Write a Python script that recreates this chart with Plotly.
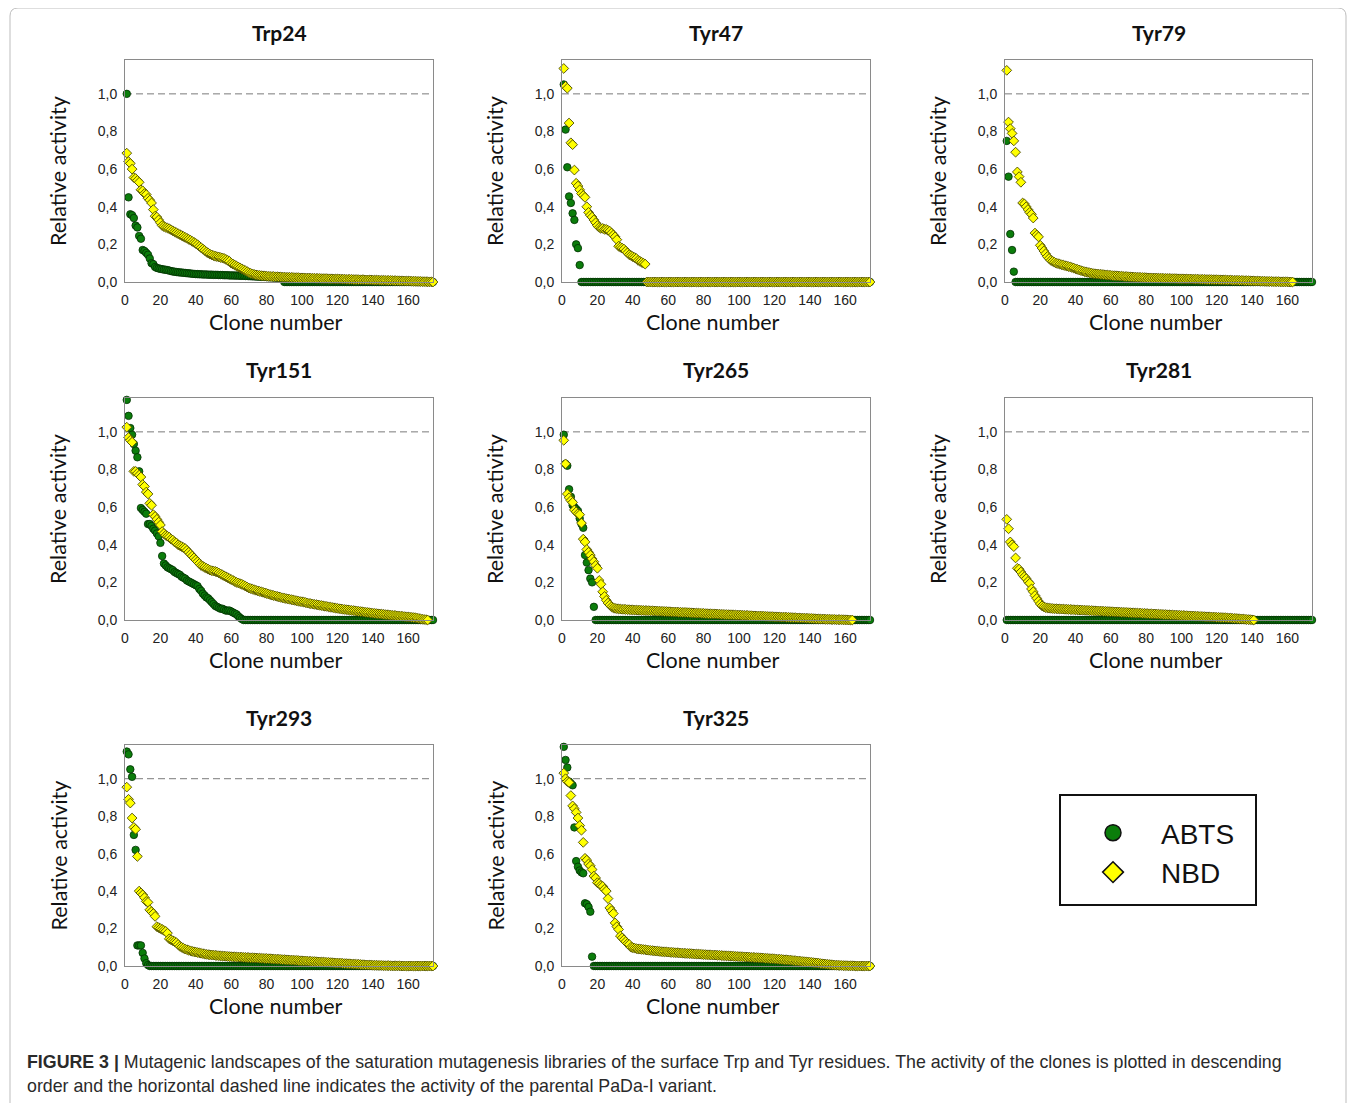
import plotly.graph_objects as go

W, H = 1355, 1103
OFFSET = 8  # page body margin of the viewer

PANEL_TITLES = ["Trp24", "Tyr47", "Tyr79", "Tyr151", "Tyr265", "Tyr281", "Tyr293", "Tyr325"]
SERIES_NAMES = ["ABTS", "NBD"]
X_TICKS = [0, 20, 40, 60, 80, 100, 120, 140, 160]
Y_TICKS = [0.0, 0.2, 0.4, 0.6, 0.8, 1.0]
Y_TICK_LABELS = ["0,0", "0,2", "0,4", "0,6", "0,8", "1,0"]
PARENT_LEVEL = 1.0
X_AXIS_TITLE = "Clone number"
Y_AXIS_TITLE = "Relative activity"
CAPTION_BOLD = "FIGURE 3 |"
CAPTION_LINE1 = (" Mutagenic landscapes of the saturation mutagenesis libraries of the surface Trp and Tyr residues. "
                 "The activity of the clones is plotted in descending")
CAPTION_LINE2 = "order and the horizontal dashed line indicates the activity of the parental PaDa-I variant."

# ---------------- data (relative activity, clones sorted in descending order) ----------------
TRP24_ABTS = [
    1.0, 0.45, 0.36, 0.355, 0.34, 0.30, 0.29, 0.245, 0.23, 0.17,
    0.165, 0.155, 0.145, 0.125, 0.10, 0.095, 0.08, 0.075, 0.072, 0.07,
    0.068, 0.066, 0.065, 0.063, 0.061, 0.058, 0.056, 0.055, 0.053, 0.052,
    0.051, 0.05, 0.049, 0.048, 0.047, 0.046, 0.045, 0.044, 0.043, 0.042,
    0.042, 0.041, 0.041, 0.040, 0.040, 0.040, 0.039, 0.039, 0.039, 0.038,
    0.038, 0.038, 0.037, 0.037, 0.037, 0.036, 0.036, 0.036, 0.035, 0.035,
    0.035, 0.034, 0.034, 0.034, 0.033, 0.033, 0.033, 0.032, 0.032, 0.031,
    0.031, 0.030, 0.030, 0.029, 0.029, 0.028, 0.028, 0.027, 0.027, 0.026,
    0.026, 0.025, 0.025, 0.024, 0.024, 0.023, 0.022, 0.021, 0.02,
    0, 0, 0, 0, 0, 0, 0, 0, 0, 0,
    0, 0, 0, 0, 0, 0, 0, 0, 0, 0,
    0, 0, 0, 0, 0, 0, 0, 0, 0, 0,
    0, 0, 0, 0, 0, 0, 0, 0, 0, 0,
    0, 0, 0, 0, 0, 0, 0, 0, 0, 0,
    0, 0, 0, 0, 0, 0, 0, 0, 0, 0,
    0, 0, 0, 0, 0, 0, 0, 0, 0, 0,
    0, 0, 0, 0, 0, 0, 0, 0, 0, 0,
    0, 0, 0, 0, 0,
]
TRP24_NBD = [
    0.685, 0.64, 0.63, 0.60, 0.555, 0.55, 0.54, 0.53, 0.49, 0.485,
    0.47, 0.465, 0.445, 0.435, 0.42, 0.385, 0.35, 0.345, 0.33, 0.315,
    0.30, 0.295, 0.29, 0.287, 0.283, 0.278, 0.272, 0.267, 0.262, 0.257,
    0.252, 0.247, 0.242, 0.237, 0.232, 0.227, 0.222, 0.216, 0.21, 0.205,
    0.198, 0.19, 0.183, 0.175, 0.168, 0.16, 0.154, 0.148, 0.144, 0.14,
    0.137, 0.135, 0.133, 0.13, 0.128, 0.125, 0.12, 0.115, 0.11, 0.10,
    0.095, 0.09, 0.085, 0.08, 0.075, 0.07, 0.065, 0.06, 0.055, 0.05,
    0.046, 0.043, 0.04, 0.038, 0.036, 0.035, 0.034, 0.033, 0.032, 0.031,
    0.03, 0.03, 0.029, 0.029, 0.028, 0.028, 0.027, 0.027, 0.026, 0.026,
    0.025, 0.025, 0.025, 0.024, 0.024, 0.023, 0.023, 0.023, 0.022, 0.022,
    0.022, 0.021, 0.021, 0.021, 0.02, 0.02, 0.02, 0.019, 0.019, 0.019,
    0.018, 0.018, 0.018, 0.018, 0.017, 0.017, 0.017, 0.016, 0.016, 0.016,
    0.016, 0.015, 0.015, 0.015, 0.014, 0.014, 0.014, 0.014, 0.013, 0.013,
    0.013, 0.012, 0.012, 0.012, 0.012, 0.011, 0.011, 0.011, 0.011, 0.01,
    0.01, 0.01, 0.01, 0.009, 0.009, 0.009, 0.009, 0.008, 0.008, 0.008,
    0.008, 0.007, 0.007, 0.007, 0.006, 0.006, 0.006, 0.006, 0.005, 0.005,
    0.005, 0.004, 0.004, 0.004, 0.003, 0.003, 0.003, 0.002, 0.002, 0.002,
    0.001, 0.001, 0.001, 0.0,
]

TYR47_ABTS = [
    1.05, 0.81, 0.61, 0.455, 0.42, 0.365, 0.33, 0.20, 0.18, 0.09,
    0, 0, 0, 0, 0, 0, 0, 0, 0, 0,
    0, 0, 0, 0, 0, 0, 0, 0, 0, 0,
    0, 0, 0, 0, 0, 0, 0, 0, 0, 0,
    0, 0, 0, 0, 0, 0, 0, 0, 0, 0,
    0, 0, 0, 0, 0, 0, 0, 0, 0, 0,
    0, 0, 0, 0, 0, 0, 0, 0, 0, 0,
    0, 0, 0, 0, 0, 0, 0, 0, 0, 0,
    0, 0, 0, 0, 0, 0, 0, 0, 0, 0,
    0, 0, 0, 0, 0, 0, 0, 0, 0, 0,
    0, 0, 0, 0, 0, 0, 0, 0, 0, 0,
    0, 0, 0, 0, 0, 0, 0, 0, 0, 0,
    0, 0, 0, 0, 0, 0, 0, 0, 0, 0,
    0, 0, 0, 0, 0, 0, 0, 0, 0, 0,
    0, 0, 0, 0, 0, 0, 0, 0, 0, 0,
    0, 0, 0, 0, 0, 0, 0, 0, 0, 0,
    0, 0, 0, 0, 0, 0, 0, 0, 0, 0,
    0, 0, 0, 0,
]
TYR47_NBD = [
    1.135, 1.04, 1.03, 0.845, 0.74, 0.73, 0.595, 0.525, 0.51, 0.49,
    0.47, 0.46, 0.45, 0.40, 0.37, 0.355, 0.345, 0.33, 0.315, 0.30,
    0.29, 0.285, 0.285, 0.28, 0.28, 0.275, 0.27, 0.26, 0.25, 0.24,
    0.225, 0.19, 0.185, 0.18, 0.175, 0.165, 0.155, 0.145, 0.14, 0.135,
    0.13, 0.125, 0.115, 0.11, 0.105, 0.10, 0.095,
    0, 0, 0, 0, 0, 0, 0, 0, 0, 0,
    0, 0, 0, 0, 0, 0, 0, 0, 0, 0,
    0, 0, 0, 0, 0, 0, 0, 0, 0, 0,
    0, 0, 0, 0, 0, 0, 0, 0, 0, 0,
    0, 0, 0, 0, 0, 0, 0, 0, 0, 0,
    0, 0, 0, 0, 0, 0, 0, 0, 0, 0,
    0, 0, 0, 0, 0, 0, 0, 0, 0, 0,
    0, 0, 0, 0, 0, 0, 0, 0, 0, 0,
    0, 0, 0, 0, 0, 0, 0, 0, 0, 0,
    0, 0, 0, 0, 0, 0, 0, 0, 0, 0,
    0, 0, 0, 0, 0, 0, 0, 0, 0, 0,
    0, 0, 0, 0, 0, 0, 0, 0, 0, 0,
    0, 0, 0, 0, 0, 0, 0,
]

TYR79_ABTS = [
    0.75, 0.56, 0.255, 0.17, 0.055,
    0, 0, 0, 0, 0, 0, 0, 0, 0, 0,
    0, 0, 0, 0, 0, 0, 0, 0, 0, 0,
    0, 0, 0, 0, 0, 0, 0, 0, 0, 0,
    0, 0, 0, 0, 0, 0, 0, 0, 0, 0,
    0, 0, 0, 0, 0, 0, 0, 0, 0, 0,
    0, 0, 0, 0, 0, 0, 0, 0, 0, 0,
    0, 0, 0, 0, 0, 0, 0, 0, 0, 0,
    0, 0, 0, 0, 0, 0, 0, 0, 0, 0,
    0, 0, 0, 0, 0, 0, 0, 0, 0, 0,
    0, 0, 0, 0, 0, 0, 0, 0, 0, 0,
    0, 0, 0, 0, 0, 0, 0, 0, 0, 0,
    0, 0, 0, 0, 0, 0, 0, 0, 0, 0,
    0, 0, 0, 0, 0, 0, 0, 0, 0, 0,
    0, 0, 0, 0, 0, 0, 0, 0, 0, 0,
    0, 0, 0, 0, 0, 0, 0, 0, 0, 0,
    0, 0, 0, 0, 0, 0, 0, 0, 0, 0,
    0, 0, 0, 0, 0, 0, 0, 0, 0,
]
TYR79_NBD = [
    1.125, 0.85, 0.815, 0.79, 0.75, 0.69, 0.585, 0.56, 0.53, 0.42,
    0.415, 0.40, 0.385, 0.37, 0.36, 0.34, 0.26, 0.25, 0.24, 0.195,
    0.18, 0.165, 0.15, 0.135, 0.125, 0.115, 0.11, 0.105, 0.10, 0.098,
    0.095, 0.092, 0.09, 0.087, 0.085, 0.082, 0.08, 0.077, 0.074, 0.07,
    0.067, 0.064, 0.061, 0.058, 0.055, 0.053, 0.051, 0.049, 0.047, 0.045,
    0.044, 0.043, 0.042, 0.041, 0.04, 0.039, 0.038, 0.037, 0.036, 0.035,
    0.034, 0.033, 0.033, 0.032, 0.031, 0.031, 0.03, 0.029, 0.029, 0.028,
    0.027, 0.027, 0.026, 0.026, 0.025, 0.025, 0.024, 0.024, 0.023, 0.023,
    0.022, 0.022, 0.022, 0.021, 0.021, 0.021, 0.02, 0.02, 0.02, 0.019,
    0.019, 0.019, 0.019, 0.018, 0.018, 0.018, 0.018, 0.017, 0.017, 0.017,
    0.017, 0.016, 0.016, 0.016, 0.016, 0.015, 0.015, 0.015, 0.015, 0.014,
    0.014, 0.014, 0.014, 0.013, 0.013, 0.013, 0.013, 0.012, 0.012, 0.012,
    0.012, 0.011, 0.011, 0.011, 0.011, 0.01, 0.01, 0.01, 0.009, 0.009,
    0.009, 0.009, 0.008, 0.008, 0.008, 0.007, 0.007, 0.007, 0.006, 0.006,
    0.006, 0.005, 0.005, 0.005, 0.004, 0.004, 0.004, 0.003, 0.003, 0.003,
    0.003, 0.002, 0.002, 0.002, 0.002, 0.001, 0.001, 0.001, 0.001, 0.001,
    0.0, 0.0, 0.0,
]

TYR151_ABTS = [
    1.17, 1.085, 1.02, 0.985, 0.935, 0.90, 0.865, 0.79, 0.595, 0.585,
    0.575, 0.565, 0.51, 0.51, 0.50, 0.485, 0.475, 0.46, 0.445, 0.41,
    0.34, 0.30, 0.29, 0.28, 0.275, 0.27, 0.265, 0.255, 0.25, 0.245,
    0.24, 0.23, 0.225, 0.22, 0.21, 0.205, 0.20, 0.195, 0.19, 0.185,
    0.18, 0.165, 0.155, 0.14, 0.13, 0.12, 0.115, 0.105, 0.095, 0.085,
    0.075, 0.07, 0.065, 0.06, 0.06, 0.055, 0.05, 0.05, 0.05, 0.045,
    0.04, 0.035, 0.03, 0.02, 0.012, 0.005,
    0, 0, 0, 0, 0, 0, 0, 0, 0, 0,
    0, 0, 0, 0, 0, 0, 0, 0, 0, 0,
    0, 0, 0, 0, 0, 0, 0, 0, 0, 0,
    0, 0, 0, 0, 0, 0, 0, 0, 0, 0,
    0, 0, 0, 0, 0, 0, 0, 0, 0, 0,
    0, 0, 0, 0, 0, 0, 0, 0, 0, 0,
    0, 0, 0, 0, 0, 0, 0, 0, 0, 0,
    0, 0, 0, 0, 0, 0, 0, 0, 0, 0,
    0, 0, 0, 0, 0, 0, 0, 0, 0, 0,
    0, 0, 0, 0, 0, 0, 0, 0, 0, 0,
    0, 0, 0, 0, 0, 0, 0, 0,
]
TYR151_NBD = [
    1.025, 0.97, 0.955, 0.945, 0.79, 0.79, 0.78, 0.77, 0.76, 0.72,
    0.71, 0.68, 0.67, 0.62, 0.61, 0.56, 0.55, 0.535, 0.52, 0.505,
    0.47, 0.46, 0.45, 0.445, 0.44, 0.43, 0.425, 0.415, 0.41, 0.40,
    0.395, 0.39, 0.385, 0.38, 0.37, 0.36, 0.35, 0.34, 0.33, 0.32,
    0.31, 0.30, 0.29, 0.285, 0.28, 0.275, 0.27, 0.265, 0.262, 0.26,
    0.258, 0.255, 0.25, 0.245, 0.24, 0.235, 0.23, 0.225, 0.22, 0.215,
    0.21, 0.205, 0.20, 0.197, 0.193, 0.19, 0.185, 0.18, 0.175, 0.17,
    0.167, 0.164, 0.161, 0.158, 0.155, 0.152, 0.15, 0.147, 0.144, 0.141,
    0.138, 0.135, 0.132, 0.13, 0.128, 0.125, 0.123, 0.12, 0.118, 0.116,
    0.114, 0.112, 0.11, 0.108, 0.106, 0.104, 0.102, 0.10, 0.098, 0.097,
    0.095, 0.093, 0.09, 0.088, 0.087, 0.085, 0.083, 0.082, 0.08, 0.078,
    0.077, 0.075, 0.073, 0.072, 0.07, 0.068, 0.067, 0.065, 0.063, 0.062,
    0.06, 0.059, 0.057, 0.056, 0.055, 0.054, 0.052, 0.051, 0.05, 0.049,
    0.047, 0.046, 0.045, 0.044, 0.042, 0.041, 0.04, 0.039, 0.037, 0.036,
    0.035, 0.034, 0.033, 0.032, 0.031, 0.03, 0.029, 0.028, 0.027, 0.026,
    0.025, 0.024, 0.023, 0.022, 0.021, 0.02, 0.019, 0.018, 0.017, 0.016,
    0.015, 0.014, 0.013, 0.012, 0.01, 0.008, 0.006, 0.004, 0.003, 0.002,
    0.0,
]

TYR265_ABTS = [
    0.985, 0.83, 0.82, 0.695, 0.655, 0.61, 0.60, 0.59, 0.58, 0.54,
    0.51, 0.49, 0.345, 0.305, 0.265, 0.22, 0.20, 0.07,
    0, 0, 0, 0, 0, 0, 0, 0, 0, 0,
    0, 0, 0, 0, 0, 0, 0, 0, 0, 0,
    0, 0, 0, 0, 0, 0, 0, 0, 0, 0,
    0, 0, 0, 0, 0, 0, 0, 0, 0, 0,
    0, 0, 0, 0, 0, 0, 0, 0, 0, 0,
    0, 0, 0, 0, 0, 0, 0, 0, 0, 0,
    0, 0, 0, 0, 0, 0, 0, 0, 0, 0,
    0, 0, 0, 0, 0, 0, 0, 0, 0, 0,
    0, 0, 0, 0, 0, 0, 0, 0, 0, 0,
    0, 0, 0, 0, 0, 0, 0, 0, 0, 0,
    0, 0, 0, 0, 0, 0, 0, 0, 0, 0,
    0, 0, 0, 0, 0, 0, 0, 0, 0, 0,
    0, 0, 0, 0, 0, 0, 0, 0, 0, 0,
    0, 0, 0, 0, 0, 0, 0, 0, 0, 0,
    0, 0, 0, 0, 0, 0, 0, 0, 0, 0,
    0, 0, 0, 0, 0, 0,
]
TYR265_NBD = [
    0.955, 0.83, 0.67, 0.65, 0.635, 0.625, 0.585, 0.575, 0.565, 0.56,
    0.515, 0.43, 0.415, 0.375, 0.36, 0.345, 0.325, 0.31, 0.29, 0.275,
    0.21, 0.19, 0.15, 0.125, 0.105, 0.09, 0.08, 0.07, 0.065, 0.062,
    0.06, 0.059, 0.058, 0.057, 0.057, 0.056, 0.055, 0.055, 0.054, 0.054,
    0.053, 0.053, 0.052, 0.052, 0.051, 0.051, 0.05, 0.05, 0.05, 0.049,
    0.049, 0.048, 0.048, 0.047, 0.047, 0.046, 0.046, 0.045, 0.045, 0.044,
    0.044, 0.043, 0.043, 0.042, 0.042, 0.041, 0.041, 0.04, 0.04, 0.04,
    0.039, 0.039, 0.038, 0.038, 0.037, 0.037, 0.036, 0.036, 0.035, 0.035,
    0.034, 0.034, 0.033, 0.033, 0.033, 0.032, 0.032, 0.031, 0.031, 0.03,
    0.03, 0.029, 0.029, 0.028, 0.028, 0.028, 0.027, 0.027, 0.026, 0.026,
    0.026, 0.025, 0.025, 0.024, 0.024, 0.023, 0.023, 0.022, 0.022, 0.021,
    0.021, 0.021, 0.02, 0.02, 0.019, 0.019, 0.018, 0.018, 0.018, 0.017,
    0.017, 0.016, 0.016, 0.015, 0.015, 0.015, 0.014, 0.014, 0.013, 0.013,
    0.012, 0.012, 0.011, 0.011, 0.01, 0.01, 0.01, 0.009, 0.009, 0.008,
    0.008, 0.007, 0.007, 0.006, 0.006, 0.005, 0.005, 0.005, 0.004, 0.004,
    0.004, 0.003, 0.003, 0.003, 0.002, 0.002, 0.002, 0.002, 0.001, 0.001,
    0.001, 0.0, 0.0, 0.0,
]

TYR281_ABTS = [
    0, 0, 0, 0, 0, 0, 0, 0, 0, 0,
    0, 0, 0, 0, 0, 0, 0, 0, 0, 0,
    0, 0, 0, 0, 0, 0, 0, 0, 0, 0,
    0, 0, 0, 0, 0, 0, 0, 0, 0, 0,
    0, 0, 0, 0, 0, 0, 0, 0, 0, 0,
    0, 0, 0, 0, 0, 0, 0, 0, 0, 0,
    0, 0, 0, 0, 0, 0, 0, 0, 0, 0,
    0, 0, 0, 0, 0, 0, 0, 0, 0, 0,
    0, 0, 0, 0, 0, 0, 0, 0, 0, 0,
    0, 0, 0, 0, 0, 0, 0, 0, 0, 0,
    0, 0, 0, 0, 0, 0, 0, 0, 0, 0,
    0, 0, 0, 0, 0, 0, 0, 0, 0, 0,
    0, 0, 0, 0, 0, 0, 0, 0, 0, 0,
    0, 0, 0, 0, 0, 0, 0, 0, 0, 0,
    0, 0, 0, 0, 0, 0, 0, 0, 0, 0,
    0, 0, 0, 0, 0, 0, 0, 0, 0, 0,
    0, 0, 0, 0, 0, 0, 0, 0, 0, 0,
    0, 0, 0, 0,
]
TYR281_NBD = [
    0.535, 0.485, 0.415, 0.40, 0.39, 0.33, 0.275, 0.27, 0.255, 0.24,
    0.23, 0.22, 0.205, 0.195, 0.165, 0.15, 0.13, 0.115, 0.10, 0.085,
    0.075, 0.07, 0.066, 0.064, 0.063, 0.062, 0.061, 0.06, 0.06, 0.059,
    0.059, 0.058, 0.058, 0.057, 0.057, 0.056, 0.056, 0.055, 0.055, 0.054,
    0.054, 0.053, 0.053, 0.052, 0.052, 0.051, 0.051, 0.05, 0.05, 0.049,
    0.049, 0.048, 0.048, 0.047, 0.047, 0.046, 0.046, 0.045, 0.045, 0.044,
    0.044, 0.043, 0.043, 0.042, 0.042, 0.041, 0.041, 0.04, 0.04, 0.039,
    0.039, 0.038, 0.038, 0.037, 0.037, 0.036, 0.036, 0.035, 0.035, 0.034,
    0.034, 0.033, 0.033, 0.032, 0.032, 0.031, 0.031, 0.03, 0.03, 0.029,
    0.029, 0.028, 0.028, 0.027, 0.027, 0.026, 0.026, 0.025, 0.025, 0.024,
    0.024, 0.023, 0.023, 0.022, 0.022, 0.021, 0.021, 0.02, 0.02, 0.019,
    0.019, 0.018, 0.018, 0.017, 0.017, 0.016, 0.016, 0.015, 0.015, 0.014,
    0.014, 0.013, 0.013, 0.012, 0.012, 0.011, 0.01, 0.01, 0.009, 0.008,
    0.008, 0.007, 0.006, 0.006, 0.005, 0.004, 0.003, 0.002, 0.002, 0.001,
    0.0,
]

TYR293_ABTS = [
    1.145, 1.13, 1.05, 1.01, 0.70, 0.62, 0.11, 0.11, 0.11, 0.07,
    0.04, 0.015, 0.005,
    0, 0, 0, 0, 0, 0, 0, 0, 0, 0,
    0, 0, 0, 0, 0, 0, 0, 0, 0, 0,
    0, 0, 0, 0, 0, 0, 0, 0, 0, 0,
    0, 0, 0, 0, 0, 0, 0, 0, 0, 0,
    0, 0, 0, 0, 0, 0, 0, 0, 0, 0,
    0, 0, 0, 0, 0, 0, 0, 0, 0, 0,
    0, 0, 0, 0, 0, 0, 0, 0, 0, 0,
    0, 0, 0, 0, 0, 0, 0, 0, 0, 0,
    0, 0, 0, 0, 0, 0, 0, 0, 0, 0,
    0, 0, 0, 0, 0, 0, 0, 0, 0, 0,
    0, 0, 0, 0, 0, 0, 0, 0, 0, 0,
    0, 0, 0, 0, 0, 0, 0, 0, 0, 0,
    0, 0, 0, 0, 0, 0, 0, 0, 0, 0,
    0, 0, 0, 0, 0, 0, 0, 0, 0, 0,
    0, 0, 0, 0, 0, 0, 0, 0, 0, 0,
    0, 0, 0, 0, 0, 0, 0, 0, 0, 0,
    0,
]
TYR293_NBD = [
    0.955, 0.89, 0.87, 0.79, 0.74, 0.73, 0.585, 0.40, 0.39, 0.38,
    0.365, 0.345, 0.34, 0.30, 0.29, 0.28, 0.265, 0.21, 0.205, 0.20,
    0.195, 0.19, 0.185, 0.175, 0.145, 0.14, 0.135, 0.13, 0.125, 0.115,
    0.105, 0.10, 0.095, 0.09, 0.087, 0.084, 0.081, 0.078, 0.076, 0.074,
    0.072, 0.07, 0.068, 0.066, 0.064, 0.062, 0.061, 0.06, 0.059, 0.058,
    0.057, 0.056, 0.055, 0.054, 0.053, 0.053, 0.052, 0.051, 0.05, 0.05,
    0.049, 0.049, 0.048, 0.048, 0.047, 0.047, 0.046, 0.046, 0.045, 0.045,
    0.044, 0.044, 0.043, 0.043, 0.042, 0.042, 0.041, 0.041, 0.04, 0.04,
    0.039, 0.039, 0.038, 0.037, 0.037, 0.036, 0.036, 0.035, 0.034, 0.034,
    0.033, 0.033, 0.032, 0.031, 0.031, 0.03, 0.03, 0.029, 0.028, 0.028,
    0.027, 0.027, 0.026, 0.025, 0.025, 0.024, 0.024, 0.023, 0.022, 0.022,
    0.021, 0.021, 0.02, 0.019, 0.019, 0.018, 0.018, 0.017, 0.016, 0.016,
    0.015, 0.015, 0.014, 0.013, 0.013, 0.012, 0.012, 0.011, 0.01, 0.01,
    0.009, 0.009, 0.008, 0.007, 0.007, 0.006, 0.006, 0.005, 0.005, 0.004,
    0.004, 0.004, 0.003, 0.003, 0.003, 0.002, 0.002, 0.002, 0.002, 0.001,
    0.001, 0.001, 0.001, 0.001, 0.001, 0, 0, 0, 0, 0,
    0, 0, 0, 0, 0, 0, 0, 0, 0, 0,
    0, 0, 0, 0,
]

TYR325_ABTS = [
    1.17, 1.10, 1.06, 0.985, 0.975, 0.965, 0.74, 0.56, 0.53, 0.51,
    0.50, 0.495, 0.335, 0.33, 0.315, 0.29, 0.05,
    0, 0, 0, 0, 0, 0, 0, 0, 0, 0,
    0, 0, 0, 0, 0, 0, 0, 0, 0, 0,
    0, 0, 0, 0, 0, 0, 0, 0, 0, 0,
    0, 0, 0, 0, 0, 0, 0, 0, 0, 0,
    0, 0, 0, 0, 0, 0, 0, 0, 0, 0,
    0, 0, 0, 0, 0, 0, 0, 0, 0, 0,
    0, 0, 0, 0, 0, 0, 0, 0, 0, 0,
    0, 0, 0, 0, 0, 0, 0, 0, 0, 0,
    0, 0, 0, 0, 0, 0, 0, 0, 0, 0,
    0, 0, 0, 0, 0, 0, 0, 0, 0, 0,
    0, 0, 0, 0, 0, 0, 0, 0, 0, 0,
    0, 0, 0, 0, 0, 0, 0, 0, 0, 0,
    0, 0, 0, 0, 0, 0, 0, 0, 0, 0,
    0, 0, 0, 0, 0, 0, 0, 0, 0, 0,
    0, 0, 0, 0, 0, 0, 0, 0, 0, 0,
    0, 0, 0, 0, 0, 0, 0,
]
TYR325_NBD = [
    1.03, 1.0, 0.985, 0.98, 0.91, 0.855, 0.84, 0.82, 0.79, 0.75,
    0.725, 0.66, 0.575, 0.565, 0.545, 0.535, 0.515, 0.48, 0.47, 0.445,
    0.44, 0.43, 0.425, 0.41, 0.40, 0.36, 0.31, 0.295, 0.28, 0.23,
    0.21, 0.195, 0.16, 0.15, 0.14, 0.13, 0.12, 0.115, 0.10, 0.098,
    0.095, 0.093, 0.091, 0.09, 0.089, 0.088, 0.087, 0.085, 0.084, 0.083,
    0.082, 0.081, 0.08, 0.079, 0.078, 0.077, 0.076, 0.076, 0.075, 0.074,
    0.073, 0.073, 0.072, 0.071, 0.071, 0.07, 0.069, 0.069, 0.068, 0.067,
    0.067, 0.066, 0.066, 0.065, 0.064, 0.064, 0.063, 0.063, 0.062, 0.061,
    0.061, 0.06, 0.06, 0.059, 0.059, 0.058, 0.058, 0.057, 0.057, 0.056,
    0.055, 0.055, 0.054, 0.054, 0.053, 0.053, 0.052, 0.051, 0.051, 0.05,
    0.05, 0.049, 0.049, 0.048, 0.048, 0.047, 0.046, 0.046, 0.045, 0.045,
    0.044, 0.043, 0.043, 0.042, 0.041, 0.041, 0.04, 0.039, 0.039, 0.038,
    0.037, 0.036, 0.036, 0.035, 0.034, 0.033, 0.033, 0.032, 0.031, 0.03,
    0.029, 0.028, 0.027, 0.026, 0.025, 0.024, 0.023, 0.022, 0.021, 0.02,
    0.019, 0.018, 0.017, 0.016, 0.015, 0.013, 0.012, 0.011, 0.01, 0.009,
    0.008, 0.007, 0.006, 0.005, 0.004, 0.004, 0.003, 0.003, 0.002, 0.002,
    0.002, 0.001, 0.001, 0.001, 0.001, 0, 0, 0, 0, 0,
    0, 0, 0, 0,
]

PANEL_DATA = [
    (TRP24_ABTS, TRP24_NBD),
    (TYR47_ABTS, TYR47_NBD),
    (TYR79_ABTS, TYR79_NBD),
    (TYR151_ABTS, TYR151_NBD),
    (TYR265_ABTS, TYR265_NBD),
    (TYR281_ABTS, TYR281_NBD),
    (TYR293_ABTS, TYR293_NBD),
    (TYR325_ABTS, TYR325_NBD),
]

# ---------------- layout geometry (screen pixels) ----------------
COL_PX = [(125, 433), (562, 870), (1005, 1312)]
ROW_PX = [(60, 282), (398, 620), (745, 966)]
X_RANGE = [0, 174]
Y_RANGE = [0, 1.18]

ABTS_STYLE = dict(symbol="circle", size=7.5, color="#0b7d0b", line=dict(color="#023002", width=0.8))
NBD_STYLE = dict(symbol="diamond", size=7.5, color="#ffff00", line=dict(color="#4a4a00", width=0.9))

TITLE_FONT = dict(family="Lato, Open Sans, sans-serif", size=21, color="#111111")
AXIS_TITLE_FONT = dict(family="Lato, Open Sans, sans-serif", size=21.5, color="#111111")
TICK_FONT = dict(family="Liberation Sans, Arial, sans-serif", size=14, color="#222222")
CAPTION_FONT = dict(family="Liberation Sans, Arial, sans-serif", size=17.8, color="#2a2a2a")


def fx(p):
    return (p - OFFSET) / W


def fy(p):
    return 1 - (p - OFFSET) / H


fig = go.Figure()
layout = dict(
    width=W, height=H, margin=dict(l=0, r=0, t=0, b=0),
    paper_bgcolor="white", plot_bgcolor="white", template="none",
    showlegend=True, hovermode=False,
)
shapes = []
annotations = []

for i, (abts, nbd) in enumerate(PANEL_DATA):
    k = "" if i == 0 else str(i + 1)
    r, c = divmod(i, 3)
    x0, x1 = COL_PX[c]
    y0, y1 = ROW_PX[r]

    fig.add_trace(go.Scatter(
        x=list(range(1, len(abts) + 1)), y=abts, mode="markers", name=SERIES_NAMES[0],
        marker=ABTS_STYLE, xaxis="x" + k, yaxis="y" + k, showlegend=False, cliponaxis=False))
    fig.add_trace(go.Scatter(
        x=list(range(1, len(nbd) + 1)), y=nbd, mode="markers", name=SERIES_NAMES[1],
        marker=NBD_STYLE, xaxis="x" + k, yaxis="y" + k, showlegend=False, cliponaxis=False))

    layout["xaxis" + k] = dict(
        domain=[fx(x0), fx(x1)], range=X_RANGE, anchor="y" + k,
        tickmode="array", tickvals=X_TICKS, ticktext=[str(v) for v in X_TICKS],
        showline=True, mirror=True, linecolor="#8a8a8a", linewidth=1,
        showgrid=False, zeroline=False, ticks="outside", ticklen=5,
        tickcolor="rgba(0,0,0,0)", tickfont=TICK_FONT, fixedrange=True)
    layout["yaxis" + k] = dict(
        domain=[fy(y1), fy(y0)], range=Y_RANGE, anchor="x" + k,
        tickmode="array", tickvals=Y_TICKS, ticktext=Y_TICK_LABELS,
        showline=True, mirror=True, linecolor="#8a8a8a", linewidth=1,
        showgrid=False, zeroline=False, ticks="outside", ticklen=4,
        tickcolor="rgba(0,0,0,0)", tickfont=TICK_FONT, fixedrange=True)

    shapes.append(dict(
        type="line", xref="x" + k + " domain", yref="y" + k,
        x0=0, x1=1, y0=PARENT_LEVEL, y1=PARENT_LEVEL,
        line=dict(color="#7a7a7a", width=1, dash="7px,4px"), layer="below"))

    cx = (x0 + x1) / 2
    annotations.append(dict(
        text="<b>%s</b>" % PANEL_TITLES[i], xref="paper", yref="paper",
        x=fx(cx), y=fy(y0 - 28), xanchor="center", yanchor="middle",
        showarrow=False, font=TITLE_FONT))
    annotations.append(dict(
        text=X_AXIS_TITLE, xref="paper", yref="paper",
        x=fx(cx - 3), y=fy(y1 + 40), xanchor="center", yanchor="middle",
        showarrow=False, font=AXIS_TITLE_FONT))
    annotations.append(dict(
        text=Y_AXIS_TITLE, xref="paper", yref="paper",
        x=fx(x0 - 67), y=fy((y0 + y1) / 2), xanchor="center", yanchor="middle",
        textangle=-90, showarrow=False, font=AXIS_TITLE_FONT))

# legend entries (keys only, no data)
fig.add_trace(go.Scatter(x=[None], y=[None], mode="markers", name=SERIES_NAMES[0],
                         marker=dict(symbol="circle", size=18, color="#0b7d0b",
                                     line=dict(color="#111111", width=1.5))))
fig.add_trace(go.Scatter(x=[None], y=[None], mode="markers", name=SERIES_NAMES[1],
                         marker=dict(symbol="diamond", size=18, color="#ffff00",
                                     line=dict(color="#111111", width=1.5))))

layout["legend"] = dict(
    x=fx(1065), y=fy(808), xanchor="left", yanchor="top",
    font=dict(family="Liberation Sans, Arial, sans-serif", size=28, color="#111111"),
    bgcolor="rgba(0,0,0,0)", borderwidth=0, itemwidth=86, tracegroupgap=0,
    itemclick=False, itemdoubleclick=False)

# legend frame
shapes.append(dict(type="rect", xref="paper", yref="paper",
                   x0=fx(1060), x1=fx(1256), y0=fy(905), y1=fy(795),
                   line=dict(color="#111111", width=2), fillcolor="rgba(0,0,0,0)"))

# outer figure frame (rounded top corners)
rr = 8
path = ("M {a},{b} L {a},{c} Q {a},{d} {e},{d} L {f},{d} Q {g},{d} {g},{c} L {g},{b}").format(
    a=fx(10), b=fy(1125), c=fy(8 + rr), d=fy(8), e=fx(10 + rr), f=fx(1346 - rr), g=fx(1346))
shapes.append(dict(type="path", xref="paper", yref="paper", path=path,
                   line=dict(color="#bdbdbd", width=1)))

# caption
annotations.append(dict(
    text="<b>%s</b>%s" % (CAPTION_BOLD, CAPTION_LINE1), xref="paper", yref="paper",
    x=fx(25), y=fy(1062), xanchor="left", yanchor="middle", showarrow=False,
    font=CAPTION_FONT))
annotations.append(dict(
    text=CAPTION_LINE2, xref="paper", yref="paper",
    x=fx(25), y=fy(1086), xanchor="left", yanchor="middle", showarrow=False,
    font=CAPTION_FONT))

layout["shapes"] = shapes
layout["annotations"] = annotations
fig.update_layout(**layout)

fig.write_html("out.html")
